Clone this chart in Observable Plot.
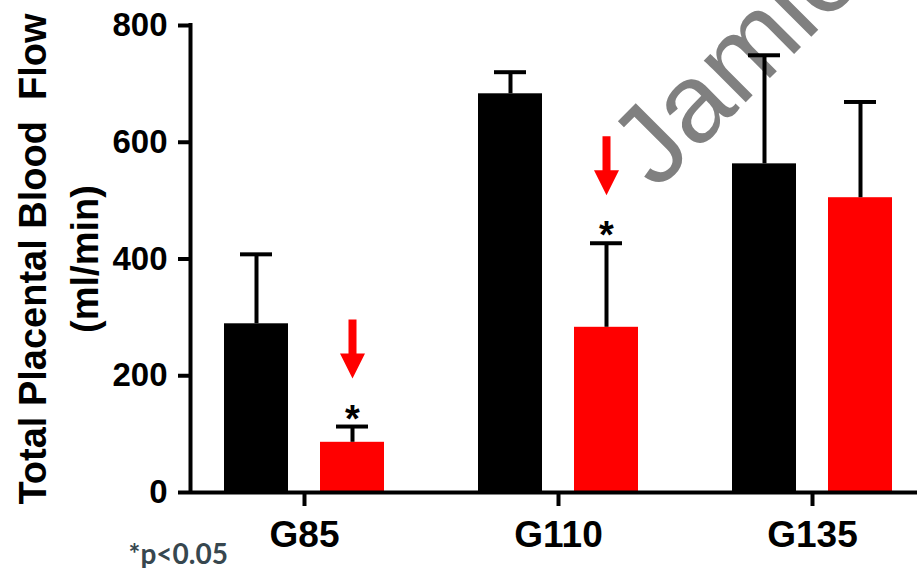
<!DOCTYPE html>
<html>
<head>
<meta charset="utf-8">
<script src="https://cdn.jsdelivr.net/npm/d3@7"></script>
<script src="https://cdn.jsdelivr.net/npm/@observablehq/plot@0.6"></script>
<style>
  html, body { margin: 0; padding: 0; background: #fff; }
  #chart { width: 917px; height: 568px; overflow: hidden; }
  g[aria-label="arrow"] { filter: drop-shadow(0px 3px 2px rgba(0,0,0,0.35)); }
</style>
</head>
<body>
<div id="chart"></div>
<script>
// ---- data ----
const groups = ["G85", "G110", "G135"];
const controlMean = [289, 683, 563];   // black bars
const controlSD   = [119, 37, 186];
const treatedMean = [86, 283, 505];    // red bars
const treatedSD   = [27, 144, 164];
const significant = [true, true, false];
const yTicks = [0, 200, 400, 600, 800];
const yTitle = "Total Placental Blood  Flow";
const yUnits = "(ml/min)";
const footnote = "*p<0.05";
const watermark = "Jamie";

// ---- layout (scale geometry) ----
const step = 254;                 // px per group
const barOffset = 48 / step;      // offset of each series from group centre
const barHalf = 32 / step;        // half bar width
const capHalf = 16 / step;        // half error cap width
const xMin = -114 / step, xMax = 613 / step;

const rows = [];
groups.forEach((g, i) => {
  rows.push({group: g, i, series: "control", x: i - barOffset, mean: controlMean[i], sd: controlSD[i], sig: false, color: "#000000"});
  rows.push({group: g, i, series: "treated", x: i + barOffset, mean: treatedMean[i], sd: treatedSD[i], sig: significant[i], color: "#ff0000"});
});
rows.forEach(d => { d.top = d.mean + d.sd; });
const sigRows = rows.filter(d => d.sig);

const arrowShape = {
  draw(ctx, l) {
    const s = 4, h = 12.5, hl = 25;
    ctx.moveTo(-s, 0);
    ctx.lineTo(-s, -(l - hl));
    ctx.lineTo(-h, -(l - hl));
    ctx.lineTo(0, -l);
    ctx.lineTo(h, -(l - hl));
    ctx.lineTo(s, -(l - hl));
    ctx.lineTo(s, 0);
    ctx.closePath();
  }
};

const font = "'Liberation Sans', Arial, Helvetica, sans-serif";

const chart = Plot.plot({
  width: 917,
  height: 568,
  marginLeft: 190,
  marginRight: 0,
  marginTop: 25,
  marginBottom: 76,
  style: {fontFamily: font, background: "#fff", color: "#000", overflow: "visible"},
  x: {type: "linear", domain: [xMin, xMax]},
  y: {domain: [0, 800]},
  marks: [
    // watermark
    Plot.text([watermark], {
      frameAnchor: "top-left", dx: 466, dy: 166, rotate: -45,
      text: d => d, textAnchor: "start", lineAnchor: "bottom",
      fontSize: 112, fill: "#808080", fontFamily: font
    }),
    // bars
    Plot.rectY(rows, {x1: d => d.x - barHalf, x2: d => d.x + barHalf, y1: 0, y2: "mean", fill: "color"}),
    // error stems
    Plot.ruleX(rows, {x: "x", y1: "mean", y2: "top", stroke: "#000", strokeWidth: 4}),
    // error caps
    Plot.ruleY(rows, {x1: d => d.x - capHalf, x2: d => d.x + capHalf, y: "top", stroke: "#000", strokeWidth: 4}),
    // significance asterisks
    Plot.text(sigRows, {x: "x", y: "top", text: () => "*", lineAnchor: "bottom", dy: 5,
      fontSize: 38, fontWeight: "bold", fill: "#000"}),
    // red arrows
    Plot.vector(sigRows, {x: "x", y: "top", length: 59, rotate: 180, anchor: "end", dy: -48,
      shape: arrowShape, fill: "#ff0000", stroke: "none", ariaLabel: "arrow"}),
    // axes
    Plot.axisY({ticks: yTicks, tickSize: 12, tickPadding: 11, fontSize: 33, fontWeight: "bold",
      strokeWidth: 4, label: null, fill: "#000"}),
    Plot.axisX({ticks: [0, 1, 2], tickFormat: i => groups[i], tickSize: 14, tickPadding: 14,
      fontSize: 37, fontWeight: "bold", strokeWidth: 4, label: null, fill: "#000"}),
    Plot.ruleX([xMin], {y1: 0, y2: 800, stroke: "#000", strokeWidth: 4, strokeLinecap: "square"}),
    Plot.ruleY([0], {stroke: "#000", strokeWidth: 4}),
    // y title (two lines)
    Plot.text([yTitle], {frameAnchor: "left", dx: -145, rotate: -90, text: d => d,
      textAnchor: "middle", lineAnchor: "bottom", fontSize: 38, fontWeight: "bold", fill: "#000"}),
    Plot.text([yUnits], {frameAnchor: "left", dx: -93, rotate: -90, text: d => d,
      textAnchor: "middle", lineAnchor: "bottom", fontSize: 38, fontWeight: "bold", fill: "#000"}),
    // footnote
    Plot.text([footnote], {frameAnchor: "bottom-left", dx: -62, dy: 71, text: d => d,
      textAnchor: "start", lineAnchor: "bottom", fontSize: 28, fontWeight: "bold",
      fill: "#37474f", fontFamily: "Lato, 'Open Sans', sans-serif"})
  ]
});
document.getElementById("chart").appendChild(chart);
</script>
</body>
</html>
